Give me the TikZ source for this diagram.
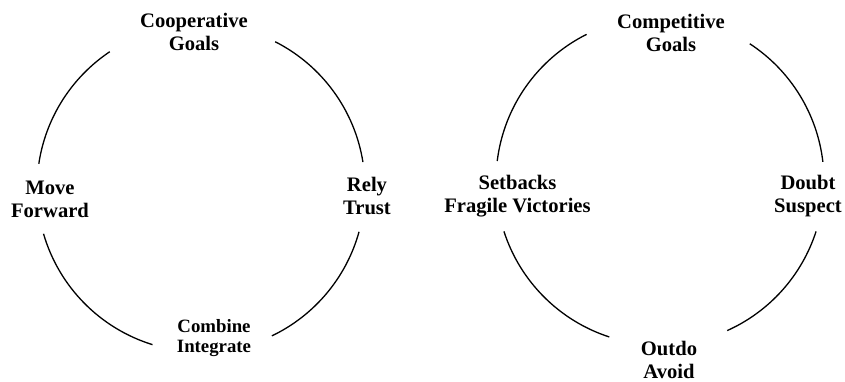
\documentclass[tikz,border=0pt]{standalone}
\usepackage{fontspec}
\setmainfont{Liberation Serif}
\begin{document}
\begin{tikzpicture}[x=1pt,y=1pt,
  cyc/.style={line width=1.3pt, black},
  lbl/.style={align=center, inner sep=0pt, font=\fontsize{20.6}{23}\selectfont\bfseries},
  lblsmall/.style={align=center, inner sep=0pt, font=\fontsize{18.8}{20}\selectfont\bfseries}]
\useasboundingbox (0,0) rectangle (845,382);

% centres of the two cycles
\coordinate (cL) at (201,194);
\coordinate (cR) at (660,201);
\def\rad{164}

% cooperative cycle
\node[lbl] (coop) at (194,350.5) {Cooperative\\Goals};
\node[lbl] (move) at (50,182.5) {Move\\Forward};
\node[lbl] (rely) at (367,186) {Rely\\Trust};
\node[lblsmall] (comb) at (214,44) {Combine\\Integrate};

\draw[cyc] ([shift={(123.8:\rad)}]cL) arc[start angle=123.8, end angle=171.5, radius=\rad];
\draw[cyc] ([shift={(63.1:\rad)}]cL) arc[start angle=63.1, end angle=9.1, radius=\rad];
\draw[cyc] ([shift={(-15.5:\rad)}]cL) arc[start angle=-15.5, end angle=-64.4, radius=\rad];
\draw[cyc] ([shift={(196.2:\rad)}]cL) arc[start angle=196.2, end angle=252.8, radius=\rad];

% competitive cycle
\node[lbl] (comp) at (671,349.5) {Competitive\\Goals};
\node[lbl] (setb) at (517.5,186) {Setbacks\\Fragile Victories};
\node[lbl] (doub) at (808,186) {Doubt\\Suspect};
\node[lbl] (outd) at (669,22) {Outdo\\Avoid};

\draw[cyc] ([shift={(116.6:\rad)}]cR) arc[start angle=116.6, end angle=173, radius=\rad];
\draw[cyc] ([shift={(56.8:\rad)}]cR) arc[start angle=56.8, end angle=6.7, radius=\rad];
\draw[cyc] ([shift={(-17.9:\rad)}]cR) arc[start angle=-17.9, end angle=-65.8, radius=\rad];
\draw[cyc] ([shift={(197.9:\rad)}]cR) arc[start angle=197.9, end angle=252, radius=\rad];
\end{tikzpicture}
\end{document}
